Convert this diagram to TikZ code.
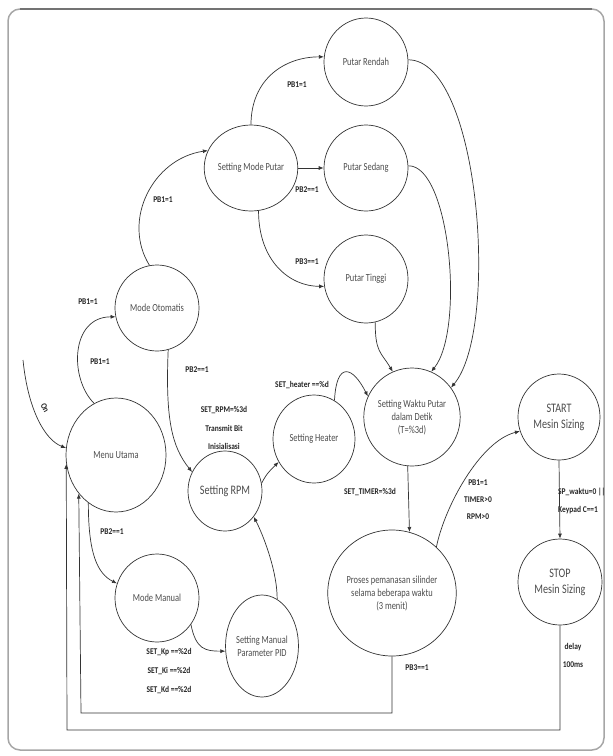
\documentclass[tikz,border=0pt]{standalone}
\usepackage{fontspec}
\setmainfont{Carlito}[FakeStretch=0.78]
\newfontfamily\lblfont{Carlito}[FakeStretch=0.85]
\usetikzlibrary{shapes.geometric,arrows.meta,calc}
\tikzset{
  st8/.style={draw=black!80, line width=0.7pt, ellipse, inner sep=0pt, align=center, font=\fontsize{10.8}{13}\selectfont, text=black!70},
  conn/.style={draw=black!80, line width=0.7pt, -{Latex[length=5pt,width=4pt]}},
  lbl/.style={font=\lblfont\bfseries\fontsize{8.8}{10}\selectfont, text=black!85, inner sep=0pt}
}
\begin{document}
\begin{tikzpicture}[x=1pt,y=1pt]
\useasboundingbox (0,0) rectangle (613,-756);
\draw[black!35, line width=1.5pt, rounded corners=12pt] (8,-9) rectangle (604,-750);
\draw[black!55, line width=1.2pt] (20,-9) -- (592,-9);
% nodes
\node[st8, minimum width=100pt, minimum height=114pt] (mu) at (116,-455) {Menu Utama};
\node[st8, minimum width=84pt, minimum height=86pt] (mo) at (157,-308) {Mode Otomatis};
\node[st8, minimum width=82pt, minimum height=86pt] (smp) at (251,-168) {Setting Mode Putar};
\node[st8, minimum width=84pt, minimum height=88pt] (pr) at (366,-62) {Putar Rendah};
\node[st8, minimum width=84pt, minimum height=86pt] (ps) at (366,-168) {Putar Sedang};
\node[st8, minimum width=84pt, minimum height=88pt] (pt) at (366,-279) {Putar Tinggi};
\node[st8, minimum width=92pt, minimum height=98pt] (sw) at (412,-417) {Setting Waktu Putar\\dalam Detik\\(T=\%3d)};
\node[st8, minimum width=82pt, minimum height=86pt, font=\fontsize{13}{16}\selectfont] (st) at (559,-417) {START\\Mesin Sizing};
\node[st8, minimum width=82pt, minimum height=88pt] (sh) at (314,-439) {Setting Heater};
\node[st8, minimum width=74pt, minimum height=80pt, font=\fontsize{13}{15}\selectfont] (srpm) at (225,-491) {Setting RPM};
\node[st8, minimum width=84pt, minimum height=88pt] (mm) at (157,-598) {Mode Manual};
\node[st8, minimum width=72pt, minimum height=102pt] (pid) at (262,-646) {Setting Manual\\Parameter PID};
\node[st8, minimum width=120pt, minimum height=126pt] (pro) at (392,-593) {Proses pemanasan silinder\\selama beberapa waktu\\(3 menit)};
\node[st8, minimum width=84pt, minimum height=86pt, font=\fontsize{13}{16}\selectfont] (sp) at (560,-582) {STOP\\Mesin Sizing};
% connectors
\coordinate (on) at (23,-360);
\draw[conn] (on) .. controls (28,-410) and (45,-440) .. (mu.172);
\draw[conn] (mu.113) .. controls +(-25,25) and +(-45,0) .. (mo.192);
\draw[conn] (mo.100) .. controls +(-28,45) and +(-55,-8) .. (smp.158);
\draw[conn] (smp.90) .. controls +(0,45) and +(-40,0) .. (pr.173);
\draw[conn] (smp.east) -- (ps.west);
\draw[conn] (smp.-80) .. controls +(0,-50) and +(-35,0) .. (pt.190);
\draw[conn] (pr.3) .. controls (480,-60) and (500,-330) .. (sw.37);
\draw[conn] (ps.3) .. controls (450,-165) and (465,-330) .. (sw.67);
\draw[conn] (pt.-78) .. controls +(0,-30) and +(-12,20) .. (sw.113);
\draw[conn] (mo.-75) .. controls +(-3,-70) and +(-20,25) .. (srpm.150);
\draw[conn] (srpm.12) .. controls +(5,10) and +(-8,-8) .. (sh.213);
\draw[conn] (sh.62) .. controls +(2,40) and +(-15,30) .. (sw.155);
\draw[conn] (sw.-95) -- (pro.74);
\draw[conn] (pro.46) .. controls +(8,40) and +(-40,-10) .. (st.200);
\draw[conn] (st.south) -- (sp.north);
\coordinate (b1) at (67,-730);
\coordinate (b2) at (81,-713);
\draw[conn] (sp.south) |- (b1) -- (mu.190);
\draw[conn] (pro.south) |- (b2) -- (mu.226);
\draw[conn] (mu.240) .. controls +(0,-50) and +(-20,10) .. (mm.160);
\draw[conn] (mm.-38) .. controls +(5,-25) and +(-20,0) .. (pid.188);
\draw[conn] (pid.72) .. controls +(0,30) and +(8,-15) .. (srpm.-42);
% labels
\node[lbl, rotate=-62] (lon) at (45,-408) {On};
\node[lbl] (l1) at (88,-302) {PB1=1};
\node[lbl] (l2) at (100,-362) {PB1=1};
\node[lbl] (l3) at (163,-200) {PB1=1};
\node[lbl] (l4) at (297,-85) {PB1=1};
\node[lbl] (l5) at (307,-190) {PB2==1};
\node[lbl] (l6) at (307,-262) {PB3==1};
\node[lbl] (l7) at (197,-370) {PB2==1};
\node[lbl] (l8) at (224,-410) {SET\_RPM=\%3d};
\node[lbl] (l9) at (224,-428) {Transmit Bit};
\node[lbl] (l10) at (224,-446) {Inisialisasi};
\node[lbl] (l11) at (302,-385) {SET\_heater ==\%d};
\node[lbl] (l12) at (370,-492) {SET\_TIMER=\%3d};
\node[lbl] (l13) at (478,-483) {PB1=1};
\node[lbl] (l14) at (478,-500) {TIMER>0};
\node[lbl] (l15) at (478,-517) {RPM>0};
\node[lbl, anchor=west] (l16) at (558,-492) {SP\_waktu=0 ||};
\node[lbl, anchor=west] (l17) at (558,-510) {Keypad C==1};
\node[lbl] (l18) at (573,-647) {delay};
\node[lbl] (l19) at (573,-665) {100ms};
\node[lbl] (l20) at (417,-668) {PB3==1};
\node[lbl] (l21) at (112,-532) {PB2==1};
\node[lbl] (l22) at (169,-652) {SET\_Kp ==\%2d};
\node[lbl] (l23) at (169,-671) {SET\_Ki ==\%2d};
\node[lbl] (l24) at (169,-690) {SET\_Kd ==\%2d};
\end{tikzpicture}
\end{document}
